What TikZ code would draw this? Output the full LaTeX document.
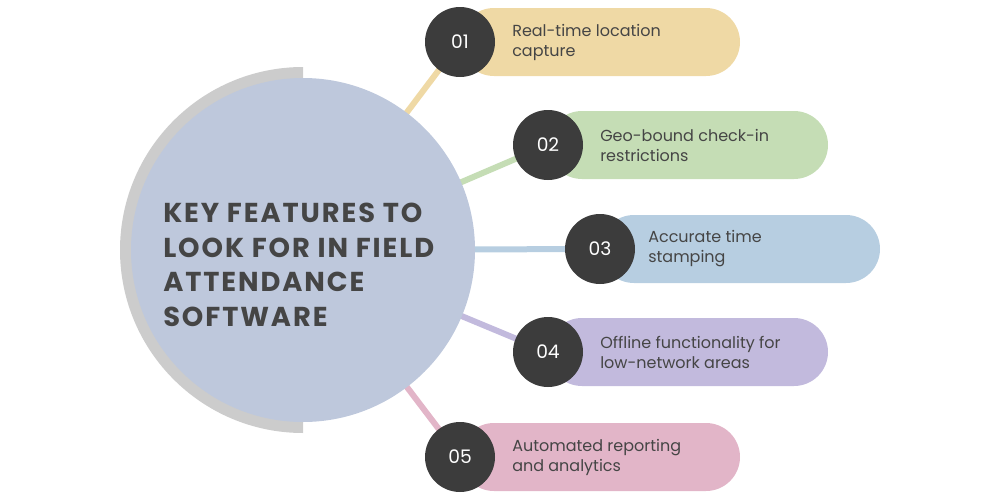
\documentclass[tikz,border=0pt]{standalone}
\usepackage{fontspec}
\setmainfont{Poppins}
\usetikzlibrary{calc}
\definecolor{cyel}{HTML}{EFD9A5}
\definecolor{cgrn}{HTML}{C5DDB5}
\definecolor{cblu}{HTML}{B7CEE1}
\definecolor{cpur}{HTML}{C2BADD}
\definecolor{cpnk}{HTML}{E2B5C8}
\definecolor{cmain}{HTML}{BEC8DC}
\definecolor{cdark}{HTML}{3C3C3C}
\definecolor{ctext}{HTML}{454545}
\begin{document}
\begin{tikzpicture}[x=0.75pt, y=-0.75pt]
    \tikzset{num/.style = {circle, fill=cdark, minimum size=70*0.75pt, inner sep=0pt, text=white, font=\fontsize{14}{16}\selectfont},
      label/.style = {anchor=west, align=left, text=ctext, font=\fontsize{12}{15}\selectfont, inner sep=0pt},
      link/.style = {line width=4.5pt}}
    \useasboundingbox (0,0) rectangle (1000,500);

    % connectors behind the big circle
    \coordinate (hub) at (303,250);
    \foreach \x/\y/\c in {460/42/cyel, 548/145/cgrn, 600/249/cblu, 548/352/cpur, 460/457/cpnk}
      \draw [link, \c] (hub) -- (\x,\y);

    % pills
    \foreach \x/\y/\r/\c in {460/42/740/cyel, 548/145/828/cgrn, 600/249/880/cblu, 548/352/828/cpur, 460/457/740/cpnk}
      \fill [\c, rounded corners=34*0.75pt] (\x,\y-34) rectangle (\r,\y+34);

    % big circle
    \fill [black!20] (303,433) arc (90:270:183) -- cycle;
    \fill [cmain] (hub) circle (172);
    \node (title) [anchor=west, align=left, text=ctext, inner sep=0pt,
      font=\fontsize{20.5}{26}\selectfont\bfseries\addfontfeatures{LetterSpace=7}] at (163,265)
      {KEY FEATURES TO\\LOOK FOR IN FIELD\\ATTENDANCE\\SOFTWARE};

    \node (n1) [num] at (460,42) {01};
    \node (n2) [num] at (548,145) {02};
    \node (n3) [num] at (600,249) {03};
    \node (n4) [num] at (548,352) {04};
    \node (n5) [num] at (460,457) {05};

    \node (t1) [label] at (512,42) {Real-time location\\capture};
    \node (t2) [label] at (600,145) {Geo-bound check-in\\restrictions};
    \node (t3) [label] at (648,249) {Accurate time\\stamping};
    \node (t4) [label] at (600,352) {Offline functionality for\\low-network areas};
    \node (t5) [label] at (512,457) {Automated reporting\\and analytics};
\end{tikzpicture}
\end{document}
